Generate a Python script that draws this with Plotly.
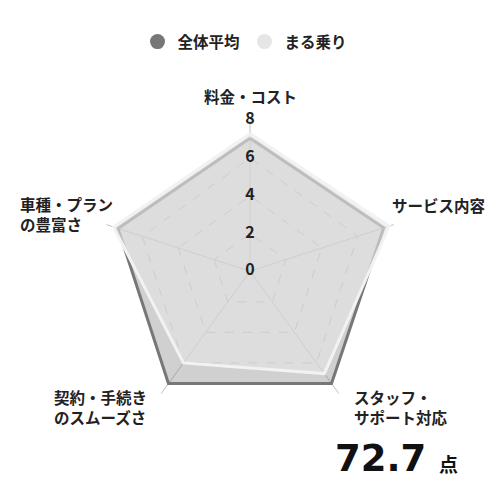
import plotly.graph_objects as go

categories = ["料金・コスト", "サービス内容", "スタッフ・<br>サポート対応",
              "契約・手続き<br>のスムーズさ", "車種・プラン<br>の豊富さ"]
average_values = [7.05, 7.45, 7.35, 7.35, 7.35]
maru_values = [7.3, 7.75, 6.7, 6.0, 7.6]
series_names = ["全体平均", "まる乗り"]
radial_ticks = [0, 2, 4, 6, 8]
score_text = "72.7"
score_unit = "点"

FONT = "Noto Sans CJK JP"
DARK = "#777777"
LIGHT = "#e6e6e6"
OFF = 8  # page body margin in the screenshot


def px(x):
    return (x - OFF) / 500


def py(y):
    return 1 - (y - OFF) / 500


fig = go.Figure()

fig.add_trace(go.Scatterpolar(
    r=average_values + average_values[:1], theta=categories + categories[:1],
    mode="lines", fill="toself", fillcolor="rgba(119,119,119,0.35)",
    line=dict(color=DARK, width=3), showlegend=False, hoverinfo="skip"))
fig.add_trace(go.Scatterpolar(
    r=maru_values + maru_values[:1], theta=categories + categories[:1],
    mode="lines", fill="toself", fillcolor="rgba(228,228,228,0.65)",
    line=dict(color="#f2f2f2", width=3), showlegend=False, hoverinfo="skip"))

# radial tick labels centred on the top spoke; plotly's polygon inside-test drops a
# point exactly at the centre, so the 0 label is nudged by a negligible amount
EPS = 1e-3
fig.add_trace(go.Scatterpolar(
    r=[max(v, EPS) for v in radial_ticks], theta=[categories[0]] * len(radial_ticks),
    mode="text", text=[str(v) for v in radial_ticks], cliponaxis=False,
    textfont=dict(family=FONT, size=16, color="#222222", weight="bold"),
    textposition="middle center", showlegend=False, hoverinfo="skip"))

for name, col in zip(series_names, [DARK, LIGHT]):
    fig.add_trace(go.Scatterpolar(
        r=[None], theta=[None], mode="markers", name=name,
        marker=dict(size=15, color=col, symbol="circle")))

# category label placement (screen px): x, y, xanchor
label_pos = [(250, 96, "center"), (390, 205, "left"), (352, 407, "left"),
             (52, 407, "left"), (18, 214, "left")]
annotations = []
for cat, (x, y, xa) in zip(categories, label_pos):
    annotations.append(dict(
        text=cat, x=px(x), y=py(y), xref="paper", yref="paper",
        xanchor=xa, yanchor="middle", align="left", showarrow=False,
        font=dict(family=FONT, size=15.5, color="#222222", weight="bold")))

annotations.append(dict(
    text=score_text, x=px(428), y=py(475), xref="paper", yref="paper",
    xanchor="right", yanchor="bottom", showarrow=False, yshift=-7,
    font=dict(family="DejaVu Sans", size=37, color="#111111", weight="bold")))
annotations.append(dict(
    text=score_unit, x=px(437), y=py(475), xref="paper", yref="paper",
    xanchor="left", yanchor="bottom", showarrow=False, yshift=-4,
    font=dict(family=FONT, size=19, color="#111111", weight="bold")))

R = 151
cx, cy = 250 - OFF, 271.3 - OFF
fig.update_layout(
    width=500, height=500,
    margin=dict(l=0, r=0, t=0, b=0),
    paper_bgcolor="white", plot_bgcolor="white",
    font=dict(family=FONT, size=14, color="#222222"),
    polar=dict(
        domain=dict(x=[(cx - R) / 500, (cx + R) / 500],
                    y=[(500 - cy - R) / 500, (500 - cy + R) / 500]),
        bgcolor="white",
        gridshape="linear",
        radialaxis=dict(range=[0, 8.001], tickvals=radial_ticks,
                        showticklabels=False, ticks="", showline=False,
                        gridcolor="#b8b8b8", griddash="dash", gridwidth=1),
        angularaxis=dict(rotation=90, direction="clockwise", showline=False,
                         showticklabels=False, ticks="",
                         gridcolor="#c0c0c0", gridwidth=1),
    ),
    legend=dict(orientation="h", x=px(245), xanchor="center", y=py(42),
                yanchor="middle", itemwidth=30,
                font=dict(family=FONT, size=15.5, color="#222222", weight="bold")),
    annotations=annotations,
)

fig.write_html("out.html")
